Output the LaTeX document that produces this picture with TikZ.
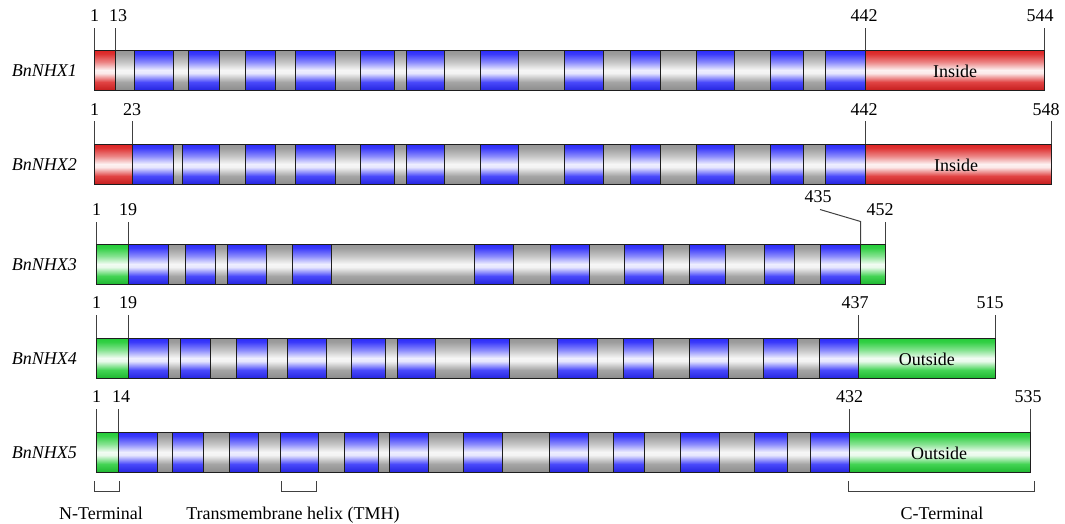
\documentclass[tikz,border=0pt]{standalone}
\usepackage{fontspec}
\setmainfont{Liberation Serif}
\definecolor{edge}{HTML}{1E1E1E}
\definecolor{grayc}{HTML}{959595}
\definecolor{bluec}{HTML}{2A2AFA}
\definecolor{redc}{HTML}{DC2222}
\definecolor{greenc}{HTML}{22CC36}
\pgfdeclareverticalshading{graybar}{100bp}{color(0bp)=(grayc!95!black); color(25bp)=(grayc!95!black); color(35bp)=(grayc!85!white); color(46bp)=(grayc!12!white); color(50bp)=(grayc!8!white); color(60bp)=(grayc!55!white); color(70bp)=(grayc!92!white); color(75bp)=(grayc); color(100bp)=(grayc)}
\pgfdeclareverticalshading{bluebar}{100bp}{color(0bp)=(bluec!90!black); color(25bp)=(bluec!90!black); color(35bp)=(bluec!85!white); color(46bp)=(bluec!12!white); color(50bp)=(bluec!8!white); color(60bp)=(bluec!55!white); color(70bp)=(bluec!92!white); color(75bp)=(bluec); color(100bp)=(bluec)}
\pgfdeclareverticalshading{redbar}{100bp}{color(0bp)=(redc!90!black); color(25bp)=(redc!90!black); color(35bp)=(redc!85!white); color(46bp)=(redc!10!white); color(50bp)=(redc!6!white); color(60bp)=(redc!55!white); color(70bp)=(redc!92!white); color(75bp)=(redc); color(100bp)=(redc)}
\pgfdeclareverticalshading{greenbar}{100bp}{color(0bp)=(greenc!90!black); color(25bp)=(greenc!90!black); color(35bp)=(greenc!85!white); color(46bp)=(greenc!10!white); color(50bp)=(greenc!6!white); color(60bp)=(greenc!55!white); color(70bp)=(greenc!92!white); color(75bp)=(greenc); color(100bp)=(greenc)}
\begin{document}
\begin{tikzpicture}[x=1pt,y=-1pt,
  font=\fontsize{18}{20}\selectfont,
  seg/.style={draw=edge,line width=0.9pt},
  grayseg/.style={seg,shading=graybar},
  tmh/.style={seg,shading=bluebar},
  redseg/.style={seg,shading=redbar},
  greenseg/.style={seg,shading=greenbar},
  tick/.style={draw=edge!85,line width=1pt},
  num/.style={anchor=base,inner sep=0pt},
  pname/.style={anchor=east,inner sep=0pt,font=\fontsize{18}{20}\selectfont\itshape},
  region/.style={anchor=center,inner sep=0pt},
  brk/.style={draw=edge!85,line width=1pt},
]
\useasboundingbox (0,0) rectangle (1065,523);

% ---------------- Row 1 : BnNHX1 ----------------
\path[grayseg] (115.4,50) rectangle (865.8,90);
\foreach \a/\b in {134/173,188/219,245/275,295/335,360/394,406/444,480/518,564.5/603.8,630.5/660,696.6/734.8,770.3/803.3,825.9/865.8}
  \path[tmh] (\a,50) rectangle (\b,90);
\path[redseg] (94,50) rectangle (115.4,90);
\path[redseg] (865.8,50) rectangle (1044,90);
\node[pname] (p1) at (77,71) {BnNHX1};
\node[region] (in1) at (955,71) {Inside};
\coordinate (r1a) at (94,50);    \coordinate (r1au) at (94,28);
\coordinate (r1b) at (115.4,50); \coordinate (r1bu) at (115.4,28);
\coordinate (r1c) at (865.8,50); \coordinate (r1cu) at (865.8,28);
\coordinate (r1d) at (1044,50);  \coordinate (r1du) at (1044,28);
\draw[tick] (r1a) -- (r1au); \draw[tick] (r1b) -- (r1bu);
\draw[tick] (r1c) -- (r1cu); \draw[tick] (r1d) -- (r1du);
\node[num] (n1a) at (94.5,21) {1};
\node[num] (n1b) at (118,21) {13};
\node[num] (n1c) at (864,21) {442};
\node[num] (n1d) at (1040,21) {544};

% ---------------- Row 2 : BnNHX2 ----------------
\path[grayseg] (132.6,144) rectangle (865.8,184);
\foreach \a/\b in {132.6/173,182/219,245/275,295/335,360/394,406/444,480/518,564.5/603.8,630.5/660,696.6/734.8,770.3/803.3,825.9/865.8}
  \path[tmh] (\a,144) rectangle (\b,184);
\path[redseg] (94,144) rectangle (132.6,184);
\path[redseg] (865.8,144) rectangle (1051,184);
\node[pname] (p2) at (77,165) {BnNHX2};
\node[region] (in2) at (956,165) {Inside};
\coordinate (r2a) at (94,144);    \coordinate (r2au) at (94,121);
\coordinate (r2b) at (132.6,144); \coordinate (r2bu) at (132.6,121);
\coordinate (r2c) at (865.8,144); \coordinate (r2cu) at (865.8,121);
\coordinate (r2d) at (1051,144);  \coordinate (r2du) at (1051,121);
\draw[tick] (r2a) -- (r2au); \draw[tick] (r2b) -- (r2bu);
\draw[tick] (r2c) -- (r2cu); \draw[tick] (r2d) -- (r2du);
\node[num] (n2a) at (94.5,115) {1};
\node[num] (n2b) at (132,115) {23};
\node[num] (n2c) at (864,115) {442};
\node[num] (n2d) at (1046,115) {548};

% ---------------- Row 3 : BnNHX3 ----------------
\path[grayseg] (128,244) rectangle (860.6,284);
\foreach \a/\b in {128/168,185/215.6,227/266,292/331,474/513,550.6/589.5,624.3/663.2,689.3/725,764.4/794.6,820.7/860.6}
  \path[tmh] (\a,244) rectangle (\b,284);
\path[greenseg] (96,244) rectangle (128,284);
\path[greenseg] (860.6,244) rectangle (885,284);
\node[pname] (p3) at (77,265) {BnNHX3};
\coordinate (r3a) at (96,244);    \coordinate (r3au) at (96,222);
\coordinate (r3b) at (128,244);   \coordinate (r3bu) at (128,222);
\coordinate (r3c) at (860.6,244); \coordinate (r3cm) at (860.6,221.5); \coordinate (r3cu) at (820,209.5);
\coordinate (r3d) at (885,244);   \coordinate (r3du) at (885,222);
\draw[tick] (r3a) -- (r3au); \draw[tick] (r3b) -- (r3bu);
\draw[tick] (r3c) -- (r3cm) -- (r3cu); \draw[tick] (r3d) -- (r3du);
\node[num] (n3a) at (96.5,215) {1};
\node[num] (n3b) at (128,215) {19};
\node[num] (n3c) at (818,202) {435};
\node[num] (n3d) at (880,215) {452};

% ---------------- Row 4 : BnNHX4 ----------------
\path[grayseg] (128,338) rectangle (858,378);
\foreach \a/\b in {128/168,180/210,236/267,287.5/326,351/385,397/435.6,470.7/509.6,557.5/597.2,623.2/653.1,689.3/728,763.3/797,819/858}
  \path[tmh] (\a,338) rectangle (\b,378);
\path[greenseg] (96,338) rectangle (128,378);
\path[greenseg] (858,338) rectangle (995.5,378);
\node[pname] (p4) at (77,359) {BnNHX4};
\node[region] (out4) at (926.8,359) {Outside};
\coordinate (r4a) at (96,338);    \coordinate (r4au) at (96,315);
\coordinate (r4b) at (128,338);   \coordinate (r4bu) at (128,315);
\coordinate (r4c) at (858,338);   \coordinate (r4cu) at (858,315);
\coordinate (r4d) at (995.5,338); \coordinate (r4du) at (995.5,315);
\draw[tick] (r4a) -- (r4au); \draw[tick] (r4b) -- (r4bu);
\draw[tick] (r4c) -- (r4cu); \draw[tick] (r4d) -- (r4du);
\node[num] (n4a) at (96.5,308) {1};
\node[num] (n4b) at (128,308) {19};
\node[num] (n4c) at (855,308) {437};
\node[num] (n4d) at (990,308) {515};

% ---------------- Row 5 : BnNHX5 ----------------
\path[grayseg] (118.8,432) rectangle (849.2,472);
\foreach \a/\b in {118.8/157.4,172.2/203.2,229/258.3,280.6/318.5,344.4/378.8,389.8/428.7,463.8/502,549.5/588,613.8/644,680.6/719.2,754.6/787.6,810.2/849.2}
  \path[tmh] (\a,432) rectangle (\b,472);
\path[greenseg] (96,432) rectangle (118.8,472);
\path[greenseg] (849.2,432) rectangle (1030,472);
\node[pname] (p5) at (77,453) {BnNHX5};
\node[region] (out5) at (939,453) {Outside};
\coordinate (r5a) at (96,432);    \coordinate (r5au) at (96,409);
\coordinate (r5b) at (118.8,432); \coordinate (r5bu) at (118.8,409);
\coordinate (r5c) at (849.2,432); \coordinate (r5cu) at (849.2,409);
\coordinate (r5d) at (1030,432);  \coordinate (r5du) at (1030,409);
\draw[tick] (r5a) -- (r5au); \draw[tick] (r5b) -- (r5bu);
\draw[tick] (r5c) -- (r5cu); \draw[tick] (r5d) -- (r5du);
\node[num] (n5a) at (96.5,402) {1};
\node[num] (n5b) at (121,402) {14};
\node[num] (n5c) at (849.5,402) {432};
\node[num] (n5d) at (1028,402) {535};

% ---------------- Brackets and legend ----------------
\coordinate (bn1) at (94,481);    \coordinate (bn2) at (94,491);
\coordinate (bn3) at (119,491);   \coordinate (bn4) at (119,481);
\draw[brk] (bn1) -- (bn2) -- (bn3) -- (bn4);
\coordinate (bt1) at (281.7,481); \coordinate (bt2) at (281.7,491);
\coordinate (bt3) at (316,491);   \coordinate (bt4) at (316,481);
\draw[brk] (bt1) -- (bt2) -- (bt3) -- (bt4);
\coordinate (bc1) at (848.5,481); \coordinate (bc2) at (848.5,491);
\coordinate (bc3) at (1034.4,491); \coordinate (bc4) at (1034.4,481);
\draw[brk] (bc1) -- (bc2) -- (bc3) -- (bc4);
\node[num] (nterm) at (101,519) {N-Terminal};
\node[num] (tmhl) at (293,519) {Transmembrane helix (TMH)};
\node[num] (cterm) at (942,519) {C-Terminal};
\end{tikzpicture}
\end{document}
